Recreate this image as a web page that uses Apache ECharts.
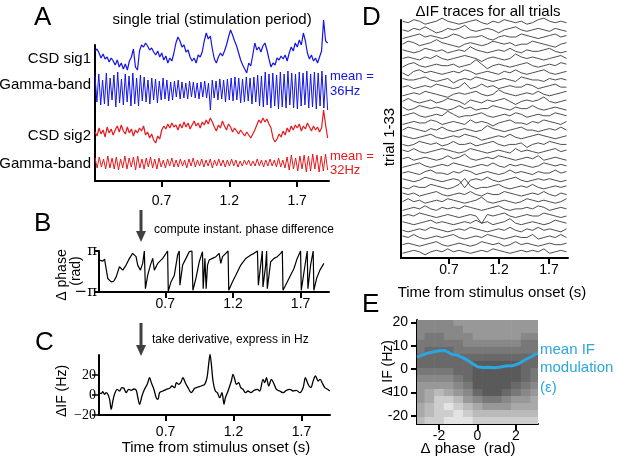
<!DOCTYPE html>
<html>
<head>
<meta charset="utf-8">
<script src="https://cdn.jsdelivr.net/npm/echarts@6/dist/echarts.min.js"></script>
<style>
html, body { margin: 0; padding: 0; background: #fff; }
#main { width: 617px; height: 467px; }
</style>
</head>
<body>
<div id="main"></div>
<script>
var SANS = 'Liberation Sans, Arial, Helvetica, sans-serif';
var SERIF = 'Liberation Serif, Times New Roman, serif';

// ---- A: single trial, stimulation period (arbitrary units)
var aStart = 0.21, aEnd = 1.925;
var timeTicks = [0.7, 1.2, 1.7];
var csdSig1 = [4,6,2,-3,1,-4,-2,-7,-3,-6,
  -10,-5,-12,-8,-14,-9,-15,-6,-2,6,
  -12,-15,4,10,8,12,9,5,7,3,
  0,4,-2,2,-5,-1,-8,-3,-6,2,
  12,18,14,8,10,3,5,-2,-6,-3,
  -8,0,-2,3,14,22,16,19,6,-4,
  -8,-2,2,-1,4,10,18,25,20,14,
  9,2,-5,-10,-14,-18,-8,-11,0,12,
  5,8,3,9,12,5,-4,-12,-8,-10,
  -3,-5,-1,-4,0,-6,2,8,4,12,
  8,15,10,22,14,2,-4,0,-6,-3,
  -8,-2,4,35,14,12];
var gammaBlue = [14,-12,16,-15,10,-14,17,-16,12,-10,15,-17,18,-13,11,-15,16,-12,14,-16,
  17,-14,12,-16,15,-11,13,-12,10,-14,12,-10,11,-13,9,-10,12,-9,10,-11,
  8,-10,9,-7,10,-9,8,-8,7,-9,9,-7,8,-8,7,-9,8,-7,9,-8,
  7,-20,10,-8,9,-10,11,-9,10,-12,11,-10,12,-11,13,-10,12,-13,11,-12,
  13,-11,12,-14,13,-12,15,-16,14,-17,18,-15,16,-18,17,-16,15,-19,18,-17,
  16,-18,19,-15,17,-18,16,-19,18,-16,17,-15,19,-18,16,-17,18,-19,17,-16,19,-18,15,-20];
var csdSig2 = [-2,-6,2,-4,0,-7,3,-3,1,-5,
  0,4,-2,5,-1,-4,3,-3,1,-6,
  0,-3,2,-1,4,-5,-2,-8,-4,-10,
  -13,-6,-9,0,4,1,6,2,7,3,
  5,0,6,2,8,3,7,1,5,9,
  4,7,2,8,5,10,6,12,8,3,
  -1,5,2,9,4,0,6,3,-2,2,
  -1,-4,0,-3,-6,-2,-5,-8,-4,0,
  5,10,7,12,8,11,6,2,-8,-12,
  -9,-4,-7,-1,-5,2,-2,4,0,5,
  2,6,-1,4,1,7,3,-1,4,0,
  3,-2,2,20,5,-8];
var gammaRed = [5,-5,6,-4,4,-6,7,-5,5,-6,6,-7,4,-5,7,-6,5,-4,6,-7,
  7,-5,4,-6,5,-4,6,-5,4,-6,5,-4,3,-5,4,-3,5,-4,3,-4,
  4,-3,3,-5,4,-3,5,-4,3,-3,4,-4,3,-3,4,-5,3,-3,4,-3,
  3,-4,3,-3,4,-3,3,-4,2,-3,3,-2,3,-3,2,-3,4,-3,3,-4,
  3,-3,4,-3,3,-4,5,-4,3,-5,6,-7,8,-6,5,-8,7,-6,8,-9,
  7,-8,9,-6,8,-9,7,-8,9,-7];

// ---- B: instantaneous phase difference [time s, rad]
var phaseDiff = [[0.214,1.75],[0.226,2.01],[0.238,1.60],[0.251,1.91],[0.263,1.75],[0.275,-1.08],[0.300,-1.60],[0.319,-1.49],
  [0.337,-0.82],[0.361,0.72],[0.386,0.21],[0.410,0.98],[0.435,2.01],[0.459,2.78],[0.484,2.27],[0.496,0.98],[0.516,0.21],
  [0.533,1.24],[0.545,3.14],[0.553,-2.63],[0.570,-0.57],[0.590,0.98],[0.607,2.01],[0.619,0.21],[0.644,1.24],[0.681,2.01],
  [0.717,3.14],[0.722,-3.04],[0.742,-1.60],[0.767,-0.57],[0.791,2.52],[0.803,3.14],[0.808,-2.11],[0.828,0.98],[0.853,2.01],
  [0.877,3.04],[0.897,3.14],[0.904,-2.88],[0.926,-1.08],[0.951,1.49],[0.975,3.04],[0.980,-2.63],[0.993,2.01],[1.002,-2.63],
  [1.012,0.98],[1.024,1.75],[1.049,2.01],[1.074,2.27],[1.098,2.78],[1.110,1.24],[1.123,2.27],[1.147,2.78],[1.164,3.14],
  [1.169,-2.88],[1.196,-1.60],[1.221,-0.57],[1.258,0.98],[1.295,2.01],[1.332,2.52],[1.356,2.78],[1.381,3.14],[1.388,-2.11],
  [1.417,3.14],[1.422,-2.37],[1.442,0.98],[1.449,3.14],[1.454,-2.63],[1.479,1.49],[1.504,2.01],[1.528,2.27],[1.553,2.78],
  [1.565,3.14],[1.570,-2.88],[1.589,-2.11],[1.614,-1.08],[1.651,0.46],[1.675,2.01],[1.700,3.14],[1.705,-2.88],[1.729,0.46],
  [1.749,3.14],[1.754,-2.63],[1.774,0.98],[1.793,3.14],[1.798,-2.88],[1.818,-1.08],[1.843,0.21],[1.872,1.24]];

// ---- C: delta instantaneous frequency [time s, Hz]
var ifTrace = [[0.214,2.3],[0.226,1.3],[0.238,3.3],[0.251,0.7],[0.263,2.3],[0.275,0.7],[0.288,-4.3],[0.300,-14.3],
  [0.312,-6],[0.324,0.7],[0.344,5.7],[0.361,4],[0.378,7.3],[0.393,6.7],[0.410,2.3],[0.428,5.7],[0.447,4.7],[0.467,6],
  [0.484,4.7],[0.496,-2.7],[0.509,-9.3],[0.526,-1],[0.545,5.7],[0.565,10.7],[0.582,17.3],[0.595,12.3],[0.614,5.7],
  [0.631,-2.7],[0.644,-4.3],[0.656,2.3],[0.681,4],[0.705,5.7],[0.730,6.7],[0.747,9],[0.767,7.3],[0.779,12.3],[0.796,10.7],
  [0.811,12.3],[0.828,17.3],[0.845,12.3],[0.865,7.3],[0.889,2.3],[0.914,6.7],[0.938,8],[0.963,9],[0.988,10.7],[1.005,17.3],
  [1.017,30.7],[1.027,40.7],[1.037,30.7],[1.049,14],[1.066,4],[1.081,2.3],[1.098,-2.7],[1.115,2.3],[1.130,-9.3],[1.140,-2.7],
  [1.155,2.3],[1.172,9],[1.184,14],[1.196,20.7],[1.209,15.7],[1.221,10.7],[1.238,12.3],[1.253,7.3],[1.270,5.7],[1.287,2.3],
  [1.307,4],[1.327,2.3],[1.351,4.7],[1.376,5.7],[1.393,4],[1.417,15.7],[1.430,12.3],[1.442,17.3],[1.459,9],[1.479,15.7],
  [1.499,10.7],[1.516,5.7],[1.540,4],[1.565,2.3],[1.589,4.7],[1.614,5.7],[1.639,4],[1.663,4.7],[1.688,2.3],[1.712,7.3],
  [1.729,17.3],[1.749,10.7],[1.769,7.3],[1.786,14],[1.803,19],[1.823,14],[1.838,15.7],[1.852,12.3],[1.872,7.3],[1.892,5.7],[1.909,4]];

// ---- D: delta IF traces for all 33 trials (arbitrary units)
var dStart = 0.235, dEnd = 1.875;
var trialTraces = [
  [1,0,2,1,-1,0,1,3,1,0,-1,0,1,2,0,-1,1,0,2,1,0,1,-1,0,2,3,1,0,1,0],
  [0,-1,1,0,2,0,-2,-1,1,0,1,3,0,-1,0,1,0,-2,0,1,2,0,-1,0,1,0,-1,1,0,-1],
  [-1,0,1,2,0,1,0,-1,0,2,1,-1,0,0,1,-1,-2,0,1,0,0,2,1,0,-1,0,1,2,0,1],
  [0,2,1,-1,0,1,3,1,0,-1,-2,0,1,0,-1,0,2,1,0,1,-1,0,0,2,1,0,-1,-2,0,1],
  [1,0,-1,0,2,1,0,1,-1,0,1,0,3,1,0,-1,0,1,0,2,0,-1,1,0,0,1,2,0,-1,0],
  [0,1,0,-1,1,0,2,0,-1,0,1,2,1,0,-2,0,1,0,-1,0,3,1,0,1,0,-1,0,1,2,0],
  [-1,1,2,0,-1,0,1,0,0,1,-1,0,1,4,1,-2,0,1,0,-1,0,1,2,0,-1,0,1,0,2,1],
  [0,-2,1,2,0,1,0,-1,0,1,0,2,1,-1,0,1,0,-1,1,0,2,0,-1,0,1,2,0,-1,0,1],
  [1,0,0,1,2,0,-1,0,1,-2,0,1,0,2,1,0,-1,0,1,0,-1,2,1,0,0,-1,1,0,1,0],
  [0,1,-1,0,1,0,2,1,0,-1,0,3,-1,0,2,0,1,-1,0,1,0,0,2,1,-1,0,1,2,0,0],
  [-1,0,1,0,2,1,0,-1,-2,0,1,0,1,2,0,-1,0,3,1,0,-1,0,1,0,2,0,-1,0,1,2],
  [0,2,0,-1,0,1,-1,0,2,1,0,-2,1,0,-1,1,0,1,2,0,-2,0,1,0,1,3,0,-1,0,1],
  [1,-1,0,2,1,0,1,0,-1,0,2,0,1,-1,0,0,2,1,0,-1,1,0,0,2,0,-1,0,1,0,-1],
  [0,1,2,0,-1,0,1,0,3,1,-1,0,0,1,2,0,-1,0,1,0,2,1,-1,0,1,0,0,2,1,0],
  [-1,0,1,0,0,2,1,-1,0,1,0,-1,2,0,1,0,-2,0,1,2,0,0,-1,1,0,2,1,0,-1,1],
  [0,2,1,0,-1,1,0,2,0,-1,0,1,0,-1,0,3,1,0,-1,0,1,2,0,0,-1,0,1,0,2,0],
  [1,0,-1,0,1,2,0,-1,0,1,0,2,1,0,-2,-1,0,1,0,2,0,-1,0,1,2,1,0,-1,0,1],
  [0,-1,0,2,1,0,1,-1,0,2,0,0,1,-1,0,1,2,0,-1,0,0,1,-2,0,1,0,2,1,0,0],
  [1,0,2,0,-1,0,1,2,1,0,-1,0,2,1,0,-1,0,1,0,-1,2,0,1,0,-1,0,1,2,0,1],
  [0,1,-1,0,1,0,-1,0,2,0,1,3,0,-1,0,1,0,2,1,0,-1,0,1,0,2,-1,0,1,0,-1],
  [-1,0,1,2,0,-1,0,1,0,2,1,0,-1,0,1,0,2,0,-1,1,0,1,0,-1,0,2,1,0,1,0],
  [0,1,0,-1,1,2,0,0,-1,1,0,2,1,-1,0,1,0,-1,0,2,0,1,0,-1,1,0,0,2,0,1],
  [1,0,-1,0,2,1,0,-1,0,1,0,-5,0,1,0,2,0,-1,0,1,2,0,-1,0,1,0,1,0,-1,0],
  [0,-1,1,0,0,2,1,0,-1,0,2,6,1,-1,0,0,1,2,0,-1,0,1,0,2,0,-1,0,1,0,1],
  [1,0,1,-1,0,1,2,0,-1,0,1,0,2,0,-1,1,0,0,2,1,0,-1,0,1,0,2,0,-1,1,0],
  [0,2,0,1,-1,0,1,0,2,1,0,-1,0,1,3,0,-1,0,1,0,-1,0,2,1,0,1,0,-1,0,2],
  [-1,0,1,0,2,0,-1,1,0,1,0,2,1,0,-1,0,1,2,0,-1,0,0,1,0,2,1,-1,0,1,0],
  [0,1,0,2,1,0,-1,0,1,0,-1,0,1,0,-5,1,0,1,2,0,-1,0,1,0,0,2,1,0,-1,0],
  [1,0,-1,0,1,2,0,1,0,-1,0,1,0,2,0,1,-1,0,1,3,0,-1,0,1,0,-1,0,2,1,0],
  [0,-1,0,1,0,2,1,0,-1,0,1,0,2,1,0,-1,0,1,0,2,0,-1,1,0,2,0,1,0,-1,1],
  [1,0,2,0,-1,0,1,0,1,2,0,-1,0,1,0,2,1,0,-1,0,1,0,0,2,-1,0,1,0,2,0],
  [0,1,0,-1,0,1,2,0,-1,0,1,0,-1,0,2,1,0,1,-1,0,2,0,1,0,-1,0,1,0,0,1],
  [-1,0,1,0,-2,0,1,0,2,0,1,0,-1,0,1,0,2,1,0,-1,0,1,0,1,0,2,-1,0,1,0]
];

// ---- E: IF vs phase difference, point density (0-9) per bin, and mean modulation
var phaseBins = [-3,-2.5,-2,-1.5,-1,-0.5,0,0.5,1,1.5,2,2.5,3];
var ifBins = [20,17,14,11,8,5,2,-1,-4,-7,-10,-13,-16,-19,-22];
var cloudDensity = [
  [6,6,6,6,5,5,5,5,5,5,5,5,5],
  [6,6,6,6,6,5,5,5,5,5,5,5,5],
  [6,7,7,6,6,6,5,5,5,5,5,6,6],
  [7,7,7,7,7,6,6,6,6,6,6,7,7],
  [7,8,8,8,7,7,7,7,7,7,7,7,7],
  [8,8,8,8,8,8,8,8,8,8,8,8,8],
  [8,8,8,8,8,8,9,9,9,9,9,8,8],
  [7,7,7,7,8,8,9,9,9,9,9,8,7],
  [6,6,6,6,7,8,9,9,9,9,9,8,7],
  [5,5,5,5,6,7,9,9,9,9,8,7,6],
  [5,4,3,4,5,6,8,9,9,8,7,6,5],
  [5,4,2,2,3,5,6,7,7,6,5,5,4],
  [4,3,2,1,2,3,4,5,5,5,4,4,4],
  [4,3,2,2,1,2,3,3,3,3,3,3,3],
  [3,2,2,1,1,1,2,2,2,2,2,2,2]
];
var meanIF = [[-3.14,5.2],[-3.01,5.5],[-2.67,6.6],[-2.32,7.3],[-1.98,7.8],[-1.72,8.0],[-1.55,7.3],[-1.29,6.2],
  [-1.03,5.9],[-0.78,4.9],[-0.52,3.8],[-0.26,2.4],[0.0,1.0],[0.26,0.7],[0.60,0.8],[0.86,0.55],[1.12,0.8],
  [1.47,1.3],[1.81,1.4],[2.16,2.4],[2.50,4.1],[2.84,5.5],[3.02,6.4],[3.14,6.6]];
var eXTicks = [-2, 0, 2];
var eYTicks = [-20, -10, 0, 10, 20];

// ---------------------------------------------------------------
function alongTime(vals, t0, t1) {
  return vals.map(function (v, i) { return [t0 + i * (t1 - t0) / (vals.length - 1), v]; });
}

var grids = [], xAxes = [], yAxes = [], series = [];
function addGrid(g, xa, ya) {
  g.outerBoundsMode = 'none';
  grids.push(g);
  var k = grids.length - 1;
  xa.gridIndex = k; ya.gridIndex = k;
  xAxes.push(xa); yAxes.push(ya);
  return k;
}
function hidden(min, max) {
  return { type: 'value', show: false, min: min, max: max, splitLine: { show: false } };
}
var blackLine = { show: true, onZero: false, lineStyle: { color: '#000', width: 2 } };
function timeAxis(min, max, margin) {
  return {
    type: 'value', min: min, max: max, axisLine: blackLine, splitLine: { show: false },
    axisTick: { customValues: timeTicks, length: 6, lineStyle: { color: '#000', width: 2 } },
    axisLabel: { customValues: timeTicks, margin: margin, fontSize: 14, color: '#000', fontFamily: SANS }
  };
}
function plainY(min, max) {
  return { type: 'value', min: min, max: max, axisLine: blackLine, axisTick: { show: false },
    axisLabel: { show: false }, splitLine: { show: false } };
}
function trace(k, data, color, width) {
  series.push({ type: 'line', xAxisIndex: k, yAxisIndex: k, data: data, symbol: 'none',
    clip: false, silent: true, lineStyle: { color: color, width: width } });
}

// A
addGrid({ left: 95, top: 45, width: 234, height: 136 }, timeAxis(0.21, 1.935, 13), plainY(0, 1));
[[csdSig1, 55, '#1414e6', 1.2], [gammaBlue, 90, '#1414e6', 1], [csdSig2, 130, '#e8181c', 1.2], [gammaRed, 163, '#e8181c', 1]]
  .forEach(function (a) {
    var k = addGrid({ left: 95, top: a[1] - 40, width: 234, height: 80 }, hidden(0.21, 1.935), hidden(-40, 40));
    trace(k, alongTime(a[0], aStart, aEnd), a[2], a[3]);
  });

// B
var kB = addGrid({ left: 99, top: 251, width: 230, height: 41 }, timeAxis(0.21, 1.91, 5), {
  type: 'value', min: -Math.PI, max: Math.PI, axisLine: blackLine, splitLine: { show: false },
  axisTick: { customValues: [-Math.PI, Math.PI], length: 5, lineStyle: { color: '#000', width: 2 } },
  axisLabel: { customValues: [-Math.PI, Math.PI], margin: 2, fontSize: 15, color: '#000',
    fontFamily: 'DejaVu Serif, serif',
    formatter: function (v) { return v > 0 ? 'π' : '−π'; } }
});
trace(kB, phaseDiff, '#000', 1.2);

// C
var kC = addGrid({ left: 99, top: 355, width: 231, height: 60 }, timeAxis(0.21, 1.91, 10), {
  type: 'value', min: -20, max: 40, axisLine: blackLine, splitLine: { show: false },
  axisTick: { customValues: [-20, 0, 20], length: 7, lineStyle: { color: '#000', width: 1.5 } },
  axisLabel: { customValues: [-20, 0, 20], margin: 3, fontSize: 14, color: '#000', fontFamily: SERIF,
    formatter: function (v) { return String(v).replace('-', '−'); } }
});
series.push({ type: 'line', xAxisIndex: kC, yAxisIndex: kC, data: ifTrace, symbol: 'none', smooth: 0.3,
  clip: false, silent: true, lineStyle: { color: '#000', width: 1.3 } });

// D
addGrid({ left: 401, top: 20, width: 167, height: 238 }, timeAxis(0.22, 1.89, 5), plainY(0, 1));
trialTraces.forEach(function (tr, i) {
  var cy = 22.7 + i * 7.16;
  var k = addGrid({ left: 401, top: cy - 6, width: 167, height: 12 }, hidden(0.22, 1.89), hidden(-4, 4));
  trace(k, alongTime(tr, dStart, dEnd), '#3a3a3a', 0.9);
});

// E
var kE = addGrid({ left: 417, top: 320, width: 121, height: 104 }, {
  type: 'value', min: -Math.PI, max: Math.PI, axisLine: blackLine, splitLine: { show: false },
  axisTick: { customValues: eXTicks, length: 6, lineStyle: { color: '#000', width: 2 } },
  axisLabel: { customValues: eXTicks, margin: 5, fontSize: 14, color: '#000', fontFamily: SANS }
}, {
  type: 'value', min: -23.5, max: 21, axisLine: blackLine, splitLine: { show: false },
  axisTick: { customValues: eYTicks, length: 6, lineStyle: { color: '#000', width: 2 } },
  axisLabel: { customValues: eYTicks, margin: 9, fontSize: 14, color: '#000', fontFamily: SANS }
});
var cloud = [];
ifBins.forEach(function (y, r) {
  phaseBins.forEach(function (x, c) { cloud.push([x, y, cloudDensity[r][c]]); });
});
var phaseStep = 0.5, ifStep = 3;
series.push({
  type: 'custom', xAxisIndex: kE, yAxisIndex: kE, data: cloud, clip: true, silent: true, z: 1,
  renderItem: function (params, api) {
    var x = api.value(0), y = api.value(1), d = api.value(2);
    var p1 = api.coord([x - phaseStep / 2, y + ifStep / 2]);
    var p2 = api.coord([x + phaseStep / 2, y - ifStep / 2]);
    var g = Math.round(255 - Math.pow(d / 9, 0.8) * 165);
    return { type: 'rect', shape: { x: p1[0], y: p1[1], width: p2[0] - p1[0] + 0.6, height: p2[1] - p1[1] + 0.6 },
      style: { fill: 'rgb(' + g + ',' + g + ',' + g + ')' } };
  }
});
series.push({ type: 'line', xAxisIndex: kE, yAxisIndex: kE, data: meanIF, symbol: 'none', z: 5,
  silent: true, lineStyle: { color: '#2ca6df', width: 3 } });

// texts and arrows
function txt(s, x, y, size, opts) {
  opts = opts || {};
  return { type: 'text', x: x, y: y, rotation: opts.rot || 0, silent: true, z: 10,
    style: { text: s, fontSize: size, fontFamily: opts.font || SANS, fill: opts.color || '#000',
      align: opts.align || 'left', verticalAlign: 'middle' } };
}
function arrow(x, y0, y1) {
  return [
    { type: 'line', silent: true, shape: { x1: x, y1: y0, x2: x, y2: y1 - 10 }, style: { stroke: '#404040', lineWidth: 3 } },
    { type: 'polygon', silent: true, shape: { points: [[x - 5, y1 - 11], [x + 5, y1 - 11], [x, y1]] }, style: { fill: '#404040' } }
  ];
}
var ROT = Math.PI / 2;
var graphics = [
  txt('A', 34, 18, 26), txt('B', 34, 224, 26), txt('C', 35, 343, 26), txt('D', 362, 18, 26), txt('E', 362, 305, 26),
  txt('single trial (stimulation period)', 212, 20, 15, { align: 'center' }),
  txt('CSD sig1', 91, 59, 15, { align: 'right' }),
  txt('Gamma-band', 91, 85, 15, { align: 'right' }),
  txt('CSD sig2', 91, 136, 15, { align: 'right' }),
  txt('Gamma-band', 91, 164, 15, { align: 'right' }),
  txt('mean =', 330, 76, 13, { color: '#1414e6' }), txt('36Hz', 330, 91, 13, { color: '#1414e6' }),
  txt('mean =', 330, 156, 13, { color: '#e8181c' }), txt('32Hz', 330, 170, 13, { color: '#e8181c' }),
  txt('compute instant. phase difference', 154, 230, 12),
  txt('take derivative, express in Hz', 152, 340, 12),
  txt('Δ phase', 62, 275, 14, { align: 'center', rot: ROT }),
  txt('(rad)', 76, 271, 14, { align: 'center', rot: ROT }),
  txt('ΔIF (Hz)', 62, 391, 14, { align: 'center', rot: ROT }),
  txt('Time from stimulus onset (s)', 216, 448, 15, { align: 'center' }),
  txt('ΔIF traces for all trials', 488, 12, 15, { align: 'center' }),
  txt('trial 1-33', 390, 137, 15, { align: 'center', rot: ROT }),
  txt('Time from stimulus onset (s)', 492, 293, 15, { align: 'center' }),
  txt('Δ IF (Hz)', 388, 368, 14, { align: 'center', rot: ROT }),
  txt('Δ phase  (rad)', 468, 449, 15, { align: 'center' }),
  txt('mean IF', 540, 350, 15, { color: '#2ca6df' }),
  txt('modulation', 540, 368, 15, { color: '#2ca6df' }),
  txt('(ε)', 540, 388, 15, { color: '#2ca6df' })
].concat(arrow(141, 210, 242), arrow(141, 323, 356));

var myChart = echarts.init(document.getElementById('main'));
myChart.setOption({
  animation: false,
  textStyle: { fontFamily: SANS },
  grid: grids,
  xAxis: xAxes,
  yAxis: yAxes,
  series: series,
  graphic: graphics
});
</script>
</body>
</html>
